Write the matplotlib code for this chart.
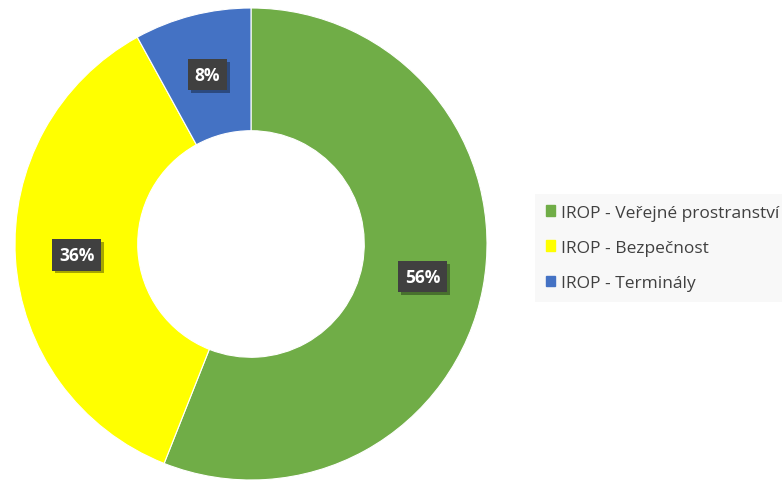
import matplotlib.pyplot as plt
import matplotlib.patches as mpatches
import matplotlib.patheffects as pe
import numpy as np

# Data
labels = ['IROP - Veřejné prostranství', 'IROP - Bezpečnost', 'IROP - Terminály']
values = [56, 36, 8]
colors = ['#70AD47', '#FFFF00', '#4472C4']

fig = plt.figure(figsize=(7.82, 4.81), dpi=100)
ax = fig.add_axes([15 / 782, 0 / 481, 472 / 782, 472 / 481])

wedges, _ = ax.pie(values, colors=colors, startangle=90, counterclock=False,
                   radius=1.0, wedgeprops=dict(width=0.52, edgecolor='white', linewidth=0.8))
ax.set_xlim(-1, 1)
ax.set_ylim(-1, 1)
ax.set_aspect('equal')

# Data labels in the middle of the ring
r_mid = 1 - 0.52 / 2
for w, v in zip(wedges, values):
    ang = np.deg2rad((w.theta1 + w.theta2) / 2)
    t = ax.text(r_mid * np.cos(ang), r_mid * np.sin(ang), f'{v}%',
                ha='center', va='center', color='white', fontsize=12.5,
                fontweight='bold', family='Open Sans',
                bbox=dict(boxstyle='square,pad=0.38', fc='#404040', ec='none'))
    t.get_bbox_patch().set_path_effects(
        [pe.SimplePatchShadow(offset=(2, -2), shadow_rgbFace='black', alpha=0.35), pe.Normal()])

# Legend
handles = [mpatches.Patch(color=c, label=l) for c, l in zip(colors, labels)]
leg = fig.legend(handles=handles, loc='upper left', bbox_to_anchor=(535 / 782, 1 - 195 / 481),
                 frameon=True, fancybox=False, labelspacing=1.1,
                 handlelength=0.55, handleheight=0.55, handletextpad=0.3,
                 borderpad=0.62, borderaxespad=0, prop={'family': 'Open Sans', 'size': 12.5})
leg.get_frame().set_facecolor('#F7F7F7')
leg.get_frame().set_edgecolor('none')
for txt in leg.get_texts():
    txt.set_color('#404040')

fig.savefig('out.png', dpi=100)
